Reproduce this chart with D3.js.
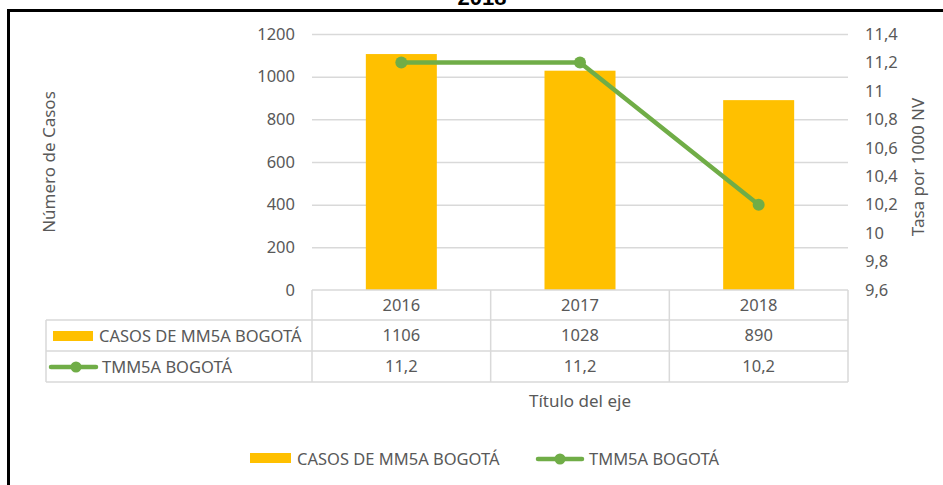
<!DOCTYPE html>
<html>
<head>
<meta charset="utf-8">
<script src="https://cdn.jsdelivr.net/npm/d3@7"></script>
<style>
  body { margin: 0; background: #fff; }
  svg { display: block; font-family: "Noto Sans", sans-serif; }
  text { fill: #595959; }
</style>
</head>
<body>
<svg id="chart"></svg>
<script>
var years = ["2016", "2017", "2018"];
var casos = [1106, 1028, 890];
var tasa = [11.2, 11.2, 10.2];
var casosTicks = [0, 200, 400, 600, 800, 1000, 1200];
var tasaTicks = [9.6, 9.8, 10, 10.2, 10.4, 10.6, 10.8, 11, 11.2, 11.4];
var serieBarras = "CASOS DE MM5A BOGOTÁ";
var serieLinea = "TMM5A BOGOTÁ";

var width = 943, height = 485;
var pLeft = 312, pRight = 848, pTop = 34, pBottom = 290;
var rowH = [290, 320, 351, 382];
var fs = "16.5px";

var amarillo = "#FFC000", verde = "#70AD47", gris = "#D9D9D9";
var coma = function(v) { return String(+v.toFixed(1)).replace(".", ","); };

var svg = d3.select("#chart").attr("width", width).attr("height", height);

var x = d3.scaleBand().domain(years).range([pLeft, pRight]).paddingInner(0).paddingOuter(0);
var y = d3.scaleLinear().domain([0, 1200]).range([pBottom, pTop]);
var y2 = d3.scaleLinear().domain([9.6, 11.4]).range([pBottom, pTop]);

// marco
svg.append("path")
    .attr("d", "M8.5," + height + "V10.5H" + width)
    .attr("fill", "none").attr("stroke", "#000").attr("stroke-width", 3);

// titulo cortado arriba
svg.append("text").attr("x", 482).attr("y", 5)
    .attr("text-anchor", "middle")
    .style("font-family", "Liberation Sans, Arial, sans-serif")
    .style("font-weight", "bold").style("font-size", "22px").style("fill", "#000")
    .text("2018");

// rejilla y eje izquierdo
var gy = svg.append("g").attr("transform", "translate(" + pLeft + ",0)")
    .call(d3.axisLeft(y).tickValues(casosTicks).tickSize(-(pRight - pLeft)).tickPadding(17).tickFormat(d3.format("d")));
gy.select(".domain").remove();
gy.selectAll(".tick line").attr("stroke", gris).attr("stroke-width", 1.5);
gy.selectAll(".tick text").style("font-size", fs).style("fill", "#595959").style("font-family", "Noto Sans");
gy.selectAll(".tick").filter(function(d) { return d === 0; }).select("line").remove();

// eje derecho
var gy2 = svg.append("g").attr("transform", "translate(" + pRight + ",0)")
    .call(d3.axisRight(y2).tickValues(tasaTicks).tickSize(0).tickPadding(17).tickFormat(coma));
gy2.select(".domain").remove();
gy2.selectAll(".tick text").style("font-size", fs).style("fill", "#595959").style("font-family", "Noto Sans");

// barras
var barW = 71;
svg.selectAll(".bar").data(casos).enter().append("rect")
    .attr("class", "bar")
    .attr("x", function(d, i) { return x(years[i]) + x.bandwidth() / 2 - barW / 2; })
    .attr("y", function(d) { return y(d); })
    .attr("width", barW)
    .attr("height", function(d) { return y(0) - y(d); })
    .attr("fill", amarillo);

// linea
var linea = d3.line()
    .x(function(d, i) { return x(years[i]) + x.bandwidth() / 2; })
    .y(function(d) { return y2(d); });
svg.append("path").datum(tasa).attr("d", linea)
    .attr("fill", "none").attr("stroke", verde).attr("stroke-width", 4.5)
    .attr("stroke-linejoin", "round");
svg.selectAll(".pt").data(tasa).enter().append("circle")
    .attr("cx", function(d, i) { return x(years[i]) + x.bandwidth() / 2; })
    .attr("cy", function(d) { return y2(d); })
    .attr("r", 6).attr("fill", verde);

// tabla de datos
var tabla = svg.append("g").attr("stroke", gris).attr("stroke-width", 1.5).attr("fill", "none");
var tLeft = 46;
tabla.append("line").attr("x1", pLeft).attr("x2", pRight).attr("y1", rowH[0]).attr("y2", rowH[0]);
[1, 2, 3].forEach(function(r) {
  tabla.append("line").attr("x1", tLeft).attr("x2", pRight).attr("y1", rowH[r]).attr("y2", rowH[r]);
});
tabla.append("line").attr("x1", tLeft).attr("x2", tLeft).attr("y1", rowH[1]).attr("y2", rowH[3]);
years.forEach(function(yr) {
  tabla.append("line").attr("x1", x(yr)).attr("x2", x(yr)).attr("y1", rowH[0]).attr("y2", rowH[3]);
});
tabla.append("line").attr("x1", pRight).attr("x2", pRight).attr("y1", rowH[0]).attr("y2", rowH[3]);

var filas = [years, casos.map(String), tasa.map(coma)];
filas.forEach(function(fila, r) {
  svg.selectAll(".cell" + r).data(fila).enter().append("text")
      .attr("x", function(d, i) { return x(years[i]) + x.bandwidth() / 2; })
      .attr("y", (rowH[r] + rowH[r + 1]) / 2)
      .attr("dy", "0.36em")
      .attr("text-anchor", "middle")
      .style("font-size", fs)
      .text(function(d) { return d; });
});

// claves de la tabla
svg.append("rect").attr("x", 53).attr("y", 331).attr("width", 40).attr("height", 10).attr("fill", amarillo);
svg.append("text").attr("x", 99).attr("y", 336).attr("dy", "0.36em").style("font-size", fs).text(serieBarras);
svg.append("line").attr("x1", 51).attr("x2", 96).attr("y1", 367).attr("y2", 367)
    .attr("stroke", verde).attr("stroke-width", 4.5).attr("stroke-linecap", "round");
svg.append("circle").attr("cx", 76).attr("cy", 367).attr("r", 5.5).attr("fill", verde);
svg.append("text").attr("x", 102).attr("y", 367).attr("dy", "0.36em").style("font-size", fs).text(serieLinea);

// titulos de ejes
svg.append("text").attr("transform", "translate(55,162) rotate(-90)")
    .attr("text-anchor", "middle").style("font-size", "17px").text("Número de Casos");
svg.append("text").attr("transform", "translate(924,167) rotate(-90)")
    .attr("text-anchor", "middle").style("font-size", "17px").text("Tasa por 1000 NV");
svg.append("text").attr("x", 580).attr("y", 401).attr("dy", "0.36em")
    .attr("text-anchor", "middle").style("font-size", "17px").text("Título del eje");

// leyenda
var ley = svg.append("g");
ley.append("rect").attr("x", 250).attr("y", 453).attr("width", 41).attr("height", 10).attr("fill", amarillo);
ley.append("text").attr("x", 297).attr("y", 459).attr("dy", "0.36em").style("font-size", fs).text(serieBarras);
ley.append("line").attr("x1", 538).attr("x2", 582).attr("y1", 459).attr("y2", 459)
    .attr("stroke", verde).attr("stroke-width", 4.5).attr("stroke-linecap", "round");
ley.append("circle").attr("cx", 560).attr("cy", 459).attr("r", 5.5).attr("fill", verde);
ley.append("text").attr("x", 589).attr("y", 459).attr("dy", "0.36em").style("font-size", fs).text(serieLinea);
</script>
</body>
</html>
